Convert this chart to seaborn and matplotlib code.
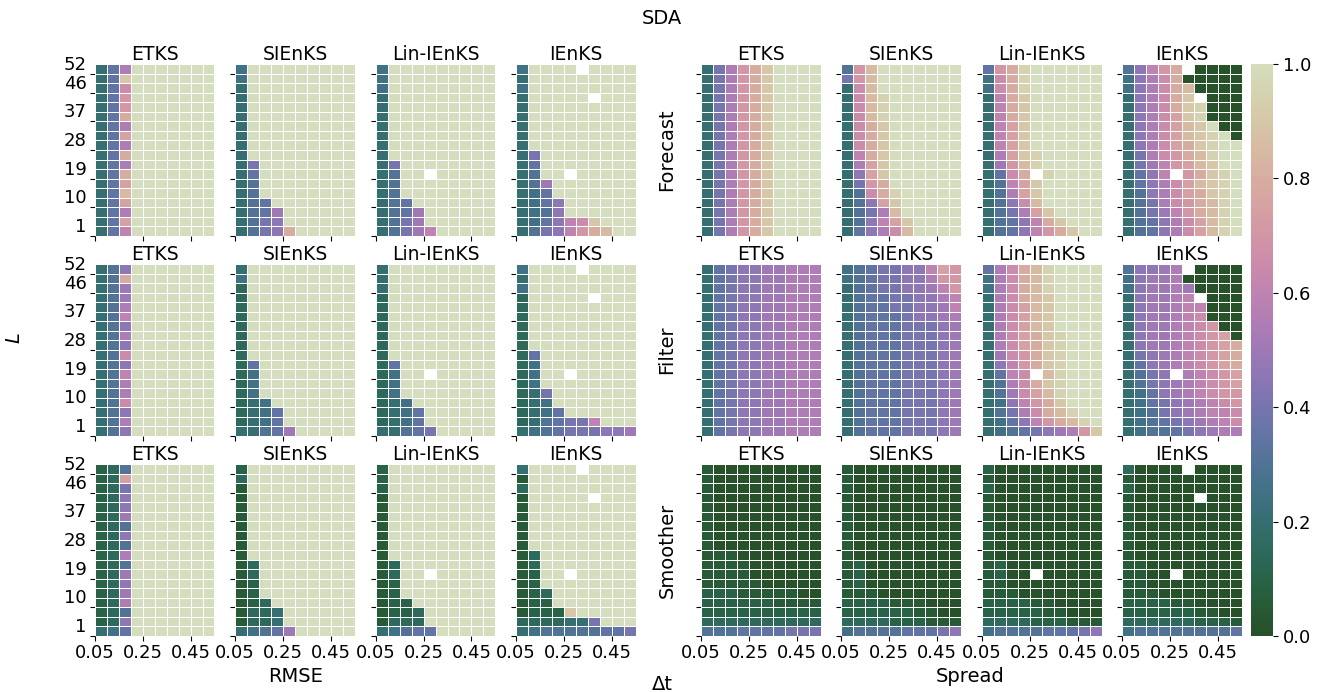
import numpy as np
import pandas as pd
import matplotlib
matplotlib.use("Agg")
import matplotlib.pyplot as plt
import seaborn as sns

# ---------------- data ----------------
DT = [0.05, 0.10, 0.15, 0.20, 0.25, 0.30, 0.35, 0.40, 0.45, 0.50]
LAGS = [52, 49, 46, 43, 40, 37, 34, 31, 28, 25, 22, 19, 16, 13, 10, 7, 4, 1]
METHODS = ["ETKS", "SIEnKS", "Lin-IEnKS", "IEnKS"]
STAGES = ["Forecast", "Filter", "Smoother"]
GROUPS = ["RMSE", "Spread"]
XTICK_LABELS = ["0.05", "0.25", "0.45"]
YTICK_LABELS = ["52", "46", "37", "28", "19", "10", "1"]
CBAR_TICKS = [0.0, 0.2, 0.4, 0.6, 0.8, 1.0]

# cell code: 'A'=0.00, 'B'=0.05, ... 'U'=1.00 (values >= 1 shown as 1), '.' = missing
# rows go from L=52 (top) to L=1 (bottom), columns dt = 0.05 ... 0.50
RMSE_FORECAST_ETKS = [
    "EHLUUUUUUU", "EHSUUUUUUU", "EHNUUUUUUU", "EHOUUUUUUU", "EHOUUUUUUU", "EHQUUUUUUU",
    "EHLUUUUUUU", "EHPUUUUUUU", "EHLUUUUUUU", "EHQUUUUUUU", "EHLUUUUUUU", "EHQUUUUUUU",
    "EHPUUUUUUU", "EHRUUUUUUU", "EHPUUUUUUU", "EHLUUUUUUU", "EHPUUUUUUU", "EHMUUUUUUU"]
RMSE_FORECAST_SIENKS = [
    "FUUUUUUUUU", "FUUUUUUUUU", "EUUUUUUUUU", "EUUUUUUUUU", "EUUUUUUUUU", "EUUUUUUUUU",
    "EUUUUUUUUU", "EUUUUUUUUU", "EUUUUUUUUU", "EUUUUUUUUU", "EIUUUUUUUU", "EHUUUUUUUU",
    "EGUUUUUUUU", "EGUUUUUUUU", "EGHUUUUUUU", "EGHKUUUUUU", "EGIJUUUUUU", "EGIJQUUUUU"]
RMSE_FORECAST_LIN = [
    "FUUUUUUUUU", "FUUUUUUUUU", "FUUUUUUUUU", "EUUUUUUUUU", "EUUUUUUUUU", "EUUUUUUUUU",
    "EUUUUUUUUU", "EUUUUUUUUU", "EUUUUUUUUU", "EUUUUUUUUU", "EIUUUUUUUU", "EGUU.UUUUU",
    "EGUUUUUUUU", "EGUUUUUUUU", "EGHUUUUUUU", "EGHKUUUUUU", "EGIKUUUUUU", "EGIKMUUUUU"]
RMSE_FORECAST_IENKS = [
    "FUUUU.UUUU", "EUUUUUUUUU", "FUUUUUUUUU", "EUUUUU.UUU", "EUUUUUUUUU", "EUUUUUUUUU",
    "EUUUUUUUUU", "EUUUUUUUUU", "EUUUUUUUUU", "EIUUUUUUUU", "EHUUUUUUUU", "EGUU.UUUUU",
    "EGKUUUUUUU", "EFHUUUUUUU", "EFHJUUUUUU", "EFGJUUUUUU", "EFHJMNSUUU", "EGIJMOQRUU"]

RMSE_FILTER_ETKS = [
    "EGJUUUUUUU", "EGQUUUUUUU", "EGKUUUUUUU", "EGKUUUUUUU", "EGLUUUUUUU", "EGMUUUUUUU",
    "EGJUUUUUUU", "EGLUUUUUUU", "EGJUUUUUUU", "EGNUUUUUUU", "EGJUUUUUUU", "EGMUUUUUUU",
    "EGLUUUUUUU", "EGLUUUUUUU", "EGNUUUUUUU", "EGJUUUUUUU", "EGLUUUUUUU", "EGJUUUUUUU"]
RMSE_FILTER_SIENKS = [
    "EUUUUUUUUU", "FUUUUUUUUU", "DUUUUUUUUU", "DUUUUUUUUU", "DUUUUUUUUU", "DUUUUUUUUU",
    "DUUUUUUUUU", "DUUUUUUUUU", "DUUUUUUUUU", "DUUUUUUUUU", "DHUUUUUUUU", "DFUUUUUUUU",
    "DFUUUUUUUU", "DFUUUUUUUU", "DEFUUUUUUU", "DEFHUUUUUU", "DEFHUUUUUU", "EEGHKUUUUU"]
RMSE_FILTER_LIN = [
    "EUUUUUUUUU", "EUUUUUUUUU", "EUUUUUUUUU", "DUUUUUUUUU", "DUUUUUUUUU", "DUUUUUUUUU",
    "DUUUUUUUUU", "DUUUUUUUUU", "DUUUUUUUUU", "DUUUUUUUUU", "DHUUUUUUUU", "DFUU.UUUUU",
    "DFUUUUUUUU", "DFUUUUUUUU", "DEFUUUUUUU", "DEFHUUUUUU", "DEFHUUUUUU", "EEGHIUUUUU"]
RMSE_FILTER_IENKS = [
    "FUUUU.UUUU", "EUUUUUUUUU", "FUUUUUUUUU", "DUUUUU.UUU", "DUUUUUUUUU", "DUUUUUUUUU",
    "DUUUUUUUUU", "DUUUUUUUUU", "DUUUUUUUUU", "DHUUUUUUUU", "DFUUUUUUUU", "DFUU.UUUUU",
    "DFUUUUUUUU", "DEIUUUUUUU", "DEFUUUUUUU", "DEFHUUUUUU", "DEGHIIMUUU", "EFGHIIIJJK"]

RMSE_SMOOTHER_ETKS = [
    "CDGUUUUUUU", "CDPUUUUUUU", "CDIUUUUUUU", "CDJUUUUUUU", "CDJUUUUUUU", "CDKUUUUUUU",
    "CDGUUUUUUU", "CDJUUUUUUU", "CDGUUUUUUU", "CDLUUUUUUU", "CDGUUUUUUU", "CDKUUUUUUU",
    "CDJUUUUUUU", "CDKUUUUUUU", "CDLUUUUUUU", "CDGUUUUUUU", "CDJUUUUUUU", "EFHUUUUUUU"]
RMSE_SMOOTHER_SIENKS = [
    "CUUUUUUUUU", "DUUUUUUUUU", "BUUUUUUUUU", "BUUUUUUUUU", "BUUUUUUUUU", "BUUUUUUUUU",
    "BUUUUUUUUU", "BUUUUUUUUU", "BUUUUUUUUU", "BUUUUUUUUU", "BDUUUUUUUU", "BDUUUUUUUU",
    "BCUUUUUUUU", "BCUUUUUUUU", "BCDUUUUUUU", "BDDEUUUUUU", "BDDEUUUUUU", "EFGHKUUUUU"]
RMSE_SMOOTHER_LIN = [
    "CUUUUUUUUU", "CUUUUUUUUU", "CUUUUUUUUU", "BUUUUUUUUU", "BUUUUUUUUU", "BUUUUUUUUU",
    "BUUUUUUUUU", "BUUUUUUUUU", "BUUUUUUUUU", "BUUUUUUUUU", "BDUUUUUUUU", "BDUU.UUUUU",
    "BCUUUUUUUU", "BCUUUUUUUU", "BCCUUUUUUU", "BCCDUUUUUU", "BDDDUUUUUU", "EFGHHUUUUU"]
RMSE_SMOOTHER_IENKS = [
    "EUUUU.UUUU", "BUUUUUUUUU", "DUUUUUUUUU", "BUUUUU.UUU", "BUUUUUUUUU", "BUUUUUUUUU",
    "BUUUUUUUUU", "BUUUUUUUUU", "BUUUUUUUUU", "BDUUUUUUUU", "BDUUUUUUUU", "BCUU.UUUUU",
    "BCUUUUUUUU", "BCDUUUUUUU", "BCCUUUUUUU", "BCCCSUUUUU", "DDDDEEIUUU", "EFGGGGGHHI"]

SPREAD_FORECAST_ETKS = [
    "EILOQSUUUU", "EILOQSUUUU", "EILOQSUUUU", "EILOQSUUUU", "EILOQSUUUU", "EILOQSUUUU",
    "EILOQSUUUU", "EILOQSUUUU", "EILOQSUUUU", "EILOQSUUUU", "EILOQSUUUU", "EILOQSUUUU",
    "EILOQSUUUU", "EILOQSUUUU", "EILOQSUUUU", "EILOQSUUUU", "EILOQSUUUU", "EILOQSUUUU"]
SPREAD_FORECAST_SIENKS = [
    "GORUUUUUUU", "IORUUUUUUU", "ENRUUUUUUU", "ENRTUUUUUU", "ENRTUUUUUU", "ENRTUUUUUU",
    "ENQSUUUUUU", "ENQSUUUUUU", "ENQSUUUUUU", "EMQSUUUUUU", "ELPSUUUUUU", "EJPSUUUUUU",
    "EIOQUUUUUU", "EGNQTUUUUU", "EGJPSUUUUU", "EGILRUUUUU", "EGJMPSUUUU", "EHJLNRUUUU"]
SPREAD_FORECAST_LIN = [
    "HOQTUUUUUU", "FNQTUUUUUU", "FNQTUUUUUU", "EMQSUUUUUU", "EMQSUUUUUU", "EMQSUUUUUU",
    "EMPSUUUUUU", "EMPSUUUUUU", "EMPSUUUUUU", "ELPSTUUUUU", "EKORTUUUUU", "EHNQ.TUUUU",
    "EGMPSUUUUU", "EGLPSUUUUU", "EGJNRUUUUU", "EGILPSUUUU", "EGHJMQSUUU", "EGHJMOQSUU"]
SPREAD_FORECAST_IENKS = [
    "GJMOQ.AAAA", "FJLNQAAAAA", "FJLNQRAAAA", "EJLNQS.AAA", "EJLNQSTAAA", "EJLNPSTAAA",
    "EJLNPRSUAA", "EJLNPRSTUA", "EJLNPQSTUU", "EILNOQRTUU", "EIKMOPRSUU", "EHJM.OQSTU",
    "EHJLNPRSTU", "EGJLNPQSTU", "EGILNOQRTU", "EGIKMOQRTU", "EGHJLNPRTU", "EGHJLNPRTU"]

SPREAD_FILTER_ETKS = [
    "EHIJJKKLLL", "EHIJJKKLLL", "EHIJJKKLLL", "EHIJJKKLLL", "EHIJJKKLLL", "EHIJJKKLLL",
    "EHIJJKKLLL", "EHIJJKKLLL", "EHIJJKKLLL", "EHIJJKKLLL", "EHIJJKKLLL", "EHIJJKKLLL",
    "EHIJJKKLLL", "EHIJJKKLLL", "EHIJJKKLLL", "EHIJJKKLLL", "EHIJJKKLLL", "EHIJJKKLLL"]
SPREAD_FILTER_SIENKS = [
    "FGHIIJJMPO", "FGHIIJJLOO", "EGHIIJJKMO", "EGHHIIJJLM", "EGHHIIJJKM", "EGHHHIJJKL",
    "EGHHHIIIJK", "EGHHHIIIJK", "EGHHHIIIJK", "EGHHHIIIJK", "EGHHHIIIJK", "EGHHHIIIJK",
    "EGHHHIIIJK", "EGHHHIIIJK", "EGHHHIIIJK", "EGHHHIIIJK", "EGHHHIIIJK", "EGHHHIIIJK"]
SPREAD_FILTER_LIN = [
    "HLNQRTUUUU", "FLNQRTUUUU", "FLNQRTUUUU", "ELNQRSUUUU", "ELNPRSUUUU", "ELNPRSUUUU",
    "ELNPRSUUUU", "ELNPQSTUUU", "ELNPQSTUUU", "EKNOQSTUUU", "EJMOQSTUUU", "EHMN.RTUUU",
    "EGLNQSTUUU", "EGKNPRTUUU", "EFJMOQSUUU", "EGILNQRTUU", "EFHJMOQRTU", "EFGHIJKLOS"]
SPREAD_FILTER_IENKS = [
    "GJJKL.AAAA", "FJKKLAAAAA", "FJKKLKAAAA", "EJKKLM.AAA", "EJKKLMMAAA", "EJKKLMNAAA",
    "EJKKLMNOAA", "EJKKLMNOPA", "EJKKLMNOPQ", "EIJKLMNOPQ", "EHJKLMNOPQ", "EGIJ.LMNOP",
    "EGIJKLMNOP", "EFHJKLMNOO", "EFHIJKLMNO", "EFGIJKLMMN", "EFGHIJKLMN", "EFGGHIJKLL"]

SPREAD_SMOOTHER_ETKS = [
    "BAAAAAAAAA", "BAAAAAAAAA", "BAAAAAAAAA", "BAAAAAAAAA", "BAAAAAAAAA", "BAAAAAAAAA",
    "BAAAAAAAAA", "BAAAAAAAAA", "BAAAAAAAAA", "BBBAAAAAAA", "BBBBAAAAAA", "BBBBAAAAAA",
    "BBBBBAAAAA", "CCCBBBBBAA", "CCCCCCBBBB", "CCCCCCCCCC", "DDDDDDDDDD", "GGGHHHHIII"]
SPREAD_SMOOTHER_SIENKS = [
    "BAAAAAAAAA", "BAAAAAAAAA", "BAAAAAAAAA", "BAAAAAAAAA", "BAAAAAAAAA", "BAAAAAAAAA",
    "BAAAAAAAAA", "BAAAAAAAAA", "BAAAAAAAAA", "BAAAAAAAAA", "BCAAAAAAAA", "BCAAAAAAAA",
    "BCAAAAAAAA", "BBBAAAAAAA", "CCCCBBBAAA", "CCCCCCBBAA", "DDDDCCCBBB", "FGGGGHHHIJ"]
SPREAD_SMOOTHER_LIN = [
    "CAAAAAAAAA", "BAAAAAAAAA", "CAAAAAAAAA", "BAAAAAAAAA", "BAAAAAAAAA", "BAAAAAAAAA",
    "BAAAAAAAAA", "BAAAAAAAAA", "BAAAAAAAAA", "BAAAAAAAAA", "BCAAAAAAAA", "BCAA.AAAAA",
    "BBAAAAAAAA", "BBBAAAAAAA", "CCCCBBAAAA", "CCCCCBBAAA", "DDDDCCCBBB", "FGGGGHHHIJ"]
SPREAD_SMOOTHER_IENKS = [
    "DAAAA.AAAA", "BAAAAAAAAA", "CAAAAAAAAA", "BAAAAA.AAA", "BAAAAAAAAA", "BAAAAAAAAA",
    "BAAAAAAAAA", "BAAAAAAAAA", "BAAAAAAAAA", "BAAAAAAAAA", "BBAAAAAAAA", "BBAA.AAAAA",
    "BBAAAAAAAA", "BBBAAAAAAA", "CCCCBBAAAA", "CCCCCCBBAA", "DDDDDDCCCB", "FGGGGGGGGH"]

PANELS = {
    ("RMSE", "Forecast"): [RMSE_FORECAST_ETKS, RMSE_FORECAST_SIENKS, RMSE_FORECAST_LIN, RMSE_FORECAST_IENKS],
    ("RMSE", "Filter"): [RMSE_FILTER_ETKS, RMSE_FILTER_SIENKS, RMSE_FILTER_LIN, RMSE_FILTER_IENKS],
    ("RMSE", "Smoother"): [RMSE_SMOOTHER_ETKS, RMSE_SMOOTHER_SIENKS, RMSE_SMOOTHER_LIN, RMSE_SMOOTHER_IENKS],
    ("Spread", "Forecast"): [SPREAD_FORECAST_ETKS, SPREAD_FORECAST_SIENKS, SPREAD_FORECAST_LIN, SPREAD_FORECAST_IENKS],
    ("Spread", "Filter"): [SPREAD_FILTER_ETKS, SPREAD_FILTER_SIENKS, SPREAD_FILTER_LIN, SPREAD_FILTER_IENKS],
    ("Spread", "Smoother"): [SPREAD_SMOOTHER_ETKS, SPREAD_SMOOTHER_SIENKS, SPREAD_SMOOTHER_LIN, SPREAD_SMOOTHER_IENKS],
}


def decode(rows):
    arr = np.array([[np.nan if c == "." else (ord(c) - 65) * 0.05 for c in r] for r in rows])
    return pd.DataFrame(arr, index=LAGS, columns=DT)


# ---------------- style ----------------
sns.set_theme(style="ticks")
plt.rcParams["font.family"] = ["DejaVu Sans"]
for key in ["text.color", "axes.labelcolor", "xtick.color", "ytick.color"]:
    plt.rcParams[key] = "black"

cmap = sns.cubehelix_palette(start=0.8, rot=1.5, dark=0.25, light=0.84, hue=0.8,
                             reverse=True, as_cmap=True)

W, H = 1325, 692
fig = plt.figure(figsize=(W / 100, H / 100), dpi=100)

LEFTS = {"RMSE": [94.5, 235.0, 375.5, 516.0], "Spread": [700.5, 841.0, 981.5, 1122.0]}
TOPS = [64, 264, 464]
PW, PH = 120, 172
TICK_FS = 13
TITLE_FS = 13.5
LABEL_FS = 14

for grp in GROUPS:
    for s, stage in enumerate(STAGES):
        for m, method in enumerate(METHODS):
            left = LEFTS[grp][m]
            ax = fig.add_axes([left / W, 1 - (TOPS[s] + PH) / H, PW / W, PH / H])
            sns.heatmap(decode(PANELS[(grp, stage)][m]), ax=ax, cmap=cmap, vmin=0, vmax=1,
                        cbar=False, linewidths=0.7, linecolor="white")
            ax.set_title(method, fontsize=TITLE_FS, pad=3)
            ax.set_xlabel("")
            ax.set_ylabel("")
            ax.set_xticks([0, 4, 8])
            ax.set_yticks([1, 3, 6, 9, 12, 15, 18])
            if s == 2:
                ax.set_xticklabels(XTICK_LABELS, rotation=0, fontsize=TICK_FS)
            else:
                ax.set_xticklabels([])
            if grp == "RMSE" and m == 0:
                ax.set_yticklabels(YTICK_LABELS, rotation=0, va="bottom", fontsize=TICK_FS)
            else:
                ax.set_yticklabels([])
            ax.tick_params(axis="both", length=3.5, width=0.8, color="black", pad=2,
                           bottom=True, left=True)

# colorbar
cax = fig.add_axes([1251 / W, 1 - 636 / H, 22 / W, 572 / H])
sm = plt.cm.ScalarMappable(cmap=cmap, norm=plt.Normalize(0, 1))
cb = fig.colorbar(sm, cax=cax, ticks=CBAR_TICKS)
cb.outline.set_visible(False)
cb.ax.tick_params(labelsize=TICK_FS, length=3.5, width=0.8, color="black")
cb.ax.set_yticklabels([f"{t:.1f}" for t in CBAR_TICKS])

# texts
fig.text(662 / W, 1 - 18 / H, "SDA", ha="center", va="center", fontsize=LABEL_FS)
fig.text(296 / W, 1 - 677 / H, "RMSE", ha="center", va="center", fontsize=LABEL_FS)
fig.text(970 / W, 1 - 677 / H, "Spread", ha="center", va="center", fontsize=LABEL_FS)
fig.text(662 / W, 1 - 684 / H, "Δt", ha="center", va="center", fontsize=LABEL_FS)
fig.text(15 / W, 1 - 338 / H, "$L$", ha="center", va="center", rotation=90, fontsize=LABEL_FS)
for s, stage in enumerate(STAGES):
    fig.text(667 / W, 1 - (TOPS[s] + PH / 2) / H, stage, ha="center", va="center",
             rotation=90, fontsize=LABEL_FS)

fig.savefig("out.png", dpi=100)
